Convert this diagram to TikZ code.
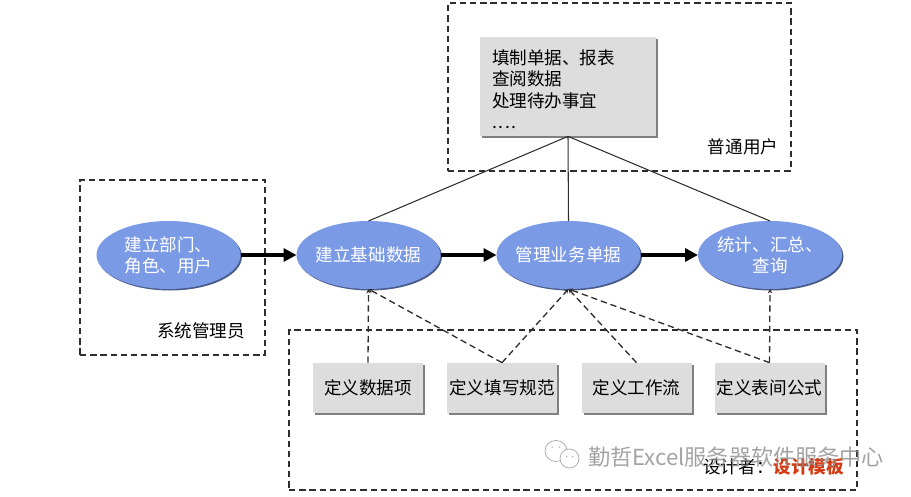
\documentclass[tikz,border=0pt]{standalone}
\usepackage{fontspec}
\setmainfont{Noto Sans CJK SC}
\usetikzlibrary{arrows.meta,shadows,shapes.geometric}
\definecolor{ovalblue}{HTML}{7B9AE6}
\definecolor{boxgray}{HTML}{DDDDDD}
\definecolor{linegray}{HTML}{2E2E2E}
\definecolor{tmplred}{HTML}{D63A10}
\tikzset{
    groupbox/.style={draw=linegray,line width=.75pt,dash pattern=on 3.6pt off 2.2pt},
    oval/.style={ellipse,minimum height=1.36cm,minimum width=2.88cm,inner xsep=-.6cm,inner ysep=-.4cm,outer sep=0,fill=ovalblue,text=white,align=center,
        drop shadow={shadow xshift=.03cm,shadow yshift=-.03cm,fill=ovalblue!60!black,opacity=1}},
    setting/.style={minimum height=1cm,minimum width=2.2cm,inner sep=0,fill=boxgray,
        drop shadow={shadow xshift=.04cm,shadow yshift=-.04cm,fill=gray,opacity=1}},
    flow/.style={line width=2.2pt,-{Triangle[length=.26cm,width=.26cm]}},
    useline/.style={draw=linegray,line width=.6pt},
    defline/.style={draw=linegray,line width=.75pt,dash pattern=on 3.6pt off 2.2pt,-{Stealth[length=2.5pt,width=2.5pt]}},
    wmark/.style={text=black!45,opacity=.8,font=\fontsize{12.6}{14}\selectfont},
    wicon/.style={draw=black!35,line width=.4pt,fill=white}
}
\begin{document}
\begin{tikzpicture}
    \useasboundingbox (0,0) rectangle (18.22,9.92);

    \node at (3.45,4.57) [groupbox,minimum height=3.5cm,minimum width=3.7cm] (adminbox) {};
    \node at (12.39,8.18) [groupbox,minimum height=3.36cm,minimum width=6.86cm] (userbox) {};
    \node at (11.46,1.72) [groupbox,minimum height=3.2cm,minimum width=11.36cm] (designbox) {};

    \node at (11.36,8.19) [minimum height=1.98cm,text width=3.04cm,inner xsep=.24cm,inner ysep=.05cm,align=left,fill=boxgray,
        drop shadow={shadow xshift=.04cm,shadow yshift=-.04cm,fill=gray,opacity=1}] (tasks)
        {\fontsize{10}{12.2}\selectfont\rule{0pt}{11.5pt}填制单据、报表\\查阅数据\\处理待办事宜\\.\kern1pt.\kern1pt.\kern1pt.};

    \node at (3.37,4.82) [oval] (dept) {建立部门、\\角色、用户};
    \node at (7.37,4.82) [oval] (base) {建立基础数据};
    \node at (11.37,4.82) [oval] (bills) {管理业务单据};
    \node at (15.4,4.82) [oval] (stats) {统计、汇总、\\查询};

    \node at (7.36,2.16) [setting] (items) {定义数据项};
    \node at (10.04,2.16) [setting] (rules) {定义填写规范};
    \node at (12.73,2.16) [setting] (work) {定义工作流};
    \node at (15.39,2.16) [setting] (formula) {定义表间公式};

    \node at (4.02,3.3) (adminlabel) {系统管理员};
    \node at (14.86,6.98) (userlabel) {普通用户};
    \node at (14.06,.58) [anchor=west,inner sep=0] (designlabel) {设计者：\textcolor{tmplred}{\bfseries 设计模板}};

    \draw[flow] (dept) -- (base);
    \draw[flow] (base) -- (bills);
    \draw[flow] (bills) -- (stats);

    \draw[useline] (tasks.south) -- (base.north);
    \draw[useline] (tasks.south) -- (bills.north);
    \draw[useline] (tasks.south) -- (stats.north);

    \draw[defline] (items.north) -- (base.south);
    \draw[defline] (rules.north) -- (base.south);
    \draw[defline] (rules.north) -- (bills.south);
    \draw[defline] (work.north) -- (bills.south);
    \draw[defline] (formula.north) -- (bills.south);
    \draw[defline] (formula.north) -- (stats.south);

    \draw[wicon] (11.12,.9) ellipse (.22 and .21);
    \draw[wicon] (11.39,.75) ellipse (.19 and .19);
    \fill[black!35] (11.04,.98) circle (.015) (11.19,.98) circle (.015) (11.33,.79) circle (.015) (11.45,.79) circle (.015);
    \node at (11.76,.78) [wmark,anchor=west,inner sep=0] (watermark) {勤哲Excel服务器软件服务中心};
\end{tikzpicture}
\end{document}
